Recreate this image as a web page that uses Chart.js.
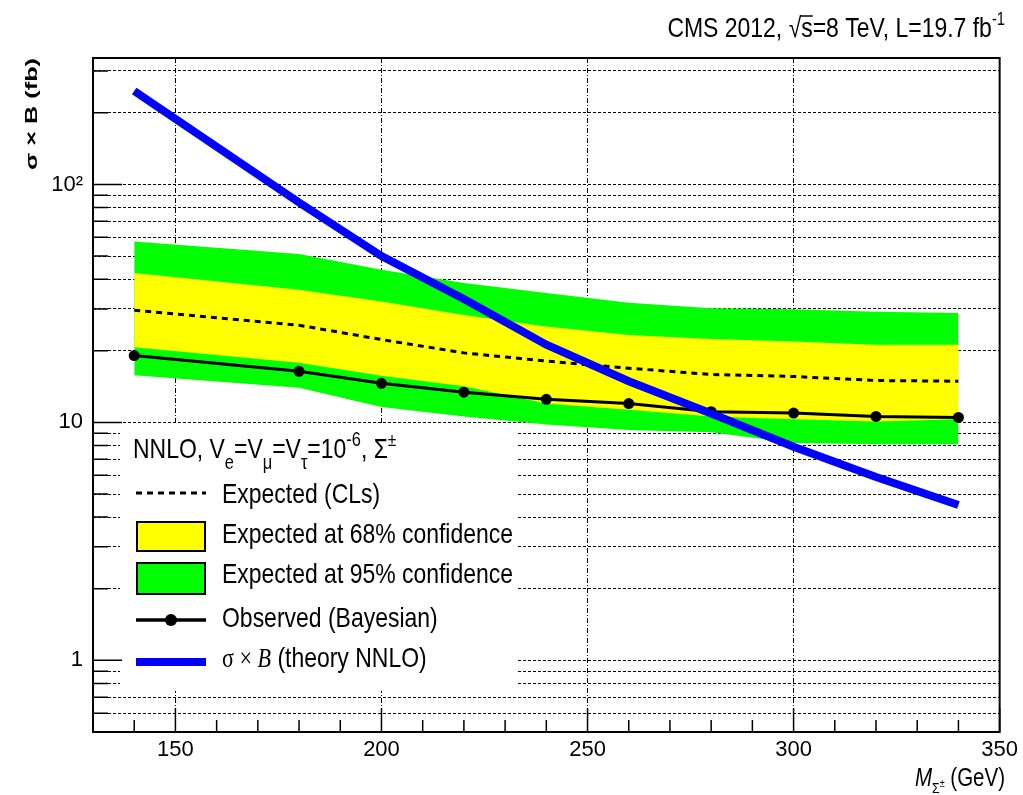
<!DOCTYPE html>
<html>
<head>
<meta charset="utf-8">
<script src="https://cdn.jsdelivr.net/npm/chart.js@4.4.1/dist/chart.umd.min.js"></script>
<style>
  html, body { margin: 0; padding: 0; background: #fff; }
  #wrap { width: 1023px; height: 795px; position: relative; }
</style>
</head>
<body>
<div id="wrap"><canvas id="c" width="1023" height="795"></canvas></div>
<script>
// Mass points (GeV) where the limits were computed
const massPoints   = [140, 180, 200, 220, 240, 260, 280, 300, 320, 340];
// Observed (Bayesian) upper limit on sigma x B (fb)
const observed     = [19.1, 16.4, 14.6, 13.4, 12.5, 12.0, 11.1, 10.95, 10.6, 10.5];
// Median expected limit (CLs)
const expected     = [29.6, 25.6, 22.3, 19.6, 18.1, 16.9, 15.9, 15.6, 15.0, 14.9];
// 68% expected band
const band68Upper  = [42.5, 36.1, 32.2, 28.3, 25.3, 23.3, 22.4, 21.9, 21.2, 21.2];
const band68Lower  = [20.7, 17.8, 15.7, 14.2, 12.0, 11.3, 10.6, 10.3, 10.1, 10.3];
// 95% expected band
const band95Upper  = [57.6, 51.0, 43.8, 38.5, 35.0, 31.8, 30.2, 29.9, 29.2, 28.8];
const band95Lower  = [15.8, 14.0, 11.6, 10.6, 9.8, 9.3, 9.1, 8.2, 8.1, 8.1];
// NNLO theory cross section times branching ratio
const theoryMass   = [140, 160, 180, 200, 220, 240, 260, 280, 300, 320, 340];
const theoryXsec   = [247, 144, 84, 50, 33.0, 21.2, 14.9, 10.9, 7.9, 5.9, 4.5];

// Axis ticks
const xTickValues  = [150, 200, 250, 300, 350];
const xMinorTicks  = [140, 160, 170, 180, 190, 210, 220, 230, 240, 260, 270, 280, 290, 310, 320, 330, 340];
const yTickValues  = [0.6, 0.7, 0.8, 0.9, 1, 2, 3, 4, 5, 6, 7, 8, 9, 10, 20, 30, 40, 50, 60, 70, 80, 90, 100, 200, 300];
const yMajorValues = [1, 10, 100];
const yTickLabels  = { 1: '1', 10: '10', 100: '10\u00B2' };

function fontAvailable(name) {
  const c = document.createElement('canvas').getContext('2d');
  c.font = '80px monospace';
  const a = c.measureText('mmmmlliiWW0123').width;
  c.font = '80px "' + name + '", monospace';
  const b = c.measureText('mmmmlliiWW0123').width;
  return Math.abs(a - b) > 1;
}
const NARROW = fontAvailable('Liberation Sans Narrow');
const SANS = NARROW ? '"Liberation Sans Narrow"' : '"Liberation Sans"';
const SQUEEZE = NARROW ? 1 : 0.82;

const pts = (xs, ys) => xs.map((x, i) => ({ x: x, y: ys[i] }));

// Draws a run of text pieces (sub/superscripts, mixed fonts) along one baseline
function richText(ctx, parts, x, y, align, squeeze) {
  let total = 0;
  parts.forEach(p => {
    ctx.font = p.font;
    p.w = ctx.measureText(p.t).width + (p.gap || 0);
    total += p.w;
  });
  ctx.save();
  ctx.translate(x, y);
  ctx.scale(squeeze, 1);
  ctx.textAlign = 'left';
  ctx.textBaseline = 'alphabetic';
  ctx.fillStyle = '#000';
  let cx = align === 'right' ? -total : 0;
  parts.forEach(p => {
    ctx.font = p.font;
    ctx.fillText(p.t, cx, p.dy || 0);
    if (p.overline) {
      ctx.lineWidth = 1.5;
      ctx.strokeStyle = '#000';
      ctx.beginPath();
      ctx.moveTo(cx - 1, p.overline);
      ctx.lineTo(cx + p.w, p.overline);
      ctx.stroke();
    }
    cx += p.w;
  });
  ctx.restore();
  return total * squeeze;
}

const framePlugin = {
  id: 'frameAndLegend',
  beforeDraw(chart) {
    const ctx = chart.ctx;
    ctx.save();
    ctx.fillStyle = '#fff';
    ctx.fillRect(0, 0, chart.width, chart.height);
    ctx.restore();
  },
  afterDatasetsDraw(chart) {
    const ctx = chart.ctx;
    const a = chart.chartArea;
    const xs = chart.scales.x, ys = chart.scales.y;

    // Legend
    ctx.save();
    ctx.fillStyle = '#fff';
    ctx.fillRect(120, 425, 398, 266);

    const LF = (sz, st) => (st || '') + ' ' + sz + 'px ' + SANS;
    const tx = 222;
    richText(ctx, [
      { t: 'NNLO, V', font: LF(28) },
      { t: 'e', font: LF(20), dy: 11 },
      { t: '=V', font: LF(28) },
      { t: '\u03BC', font: LF(20), dy: 11 },
      { t: '=V', font: LF(28) },
      { t: '\u03C4', font: LF(20), dy: 11 },
      { t: '=10', font: LF(28) },
      { t: '-6', font: LF(20), dy: -12 },
      { t: ', \u03A3', font: LF(28) },
      { t: '\u00B1', font: LF(19), dy: -12 }
    ], 133, 458, 'left', SQUEEZE);

    // dashed expected
    ctx.strokeStyle = '#000';
    ctx.lineWidth = 3;
    ctx.setLineDash([6, 5]);
    ctx.beginPath(); ctx.moveTo(136, 493); ctx.lineTo(206, 493); ctx.stroke();
    ctx.setLineDash([]);
    richText(ctx, [{ t: 'Expected (CLs)', font: LF(28) }], tx, 503, 'left', SQUEEZE);

    // bands
    ctx.lineWidth = 2;
    ctx.fillStyle = '#ffff00';
    ctx.fillRect(137, 522, 68, 29); ctx.strokeRect(137, 522, 68, 29);
    richText(ctx, [{ t: 'Expected at 68% confidence', font: LF(28) }], tx, 543, 'left', SQUEEZE);
    ctx.fillStyle = '#00ff00';
    ctx.fillRect(137, 563, 68, 31); ctx.strokeRect(137, 563, 68, 31);
    richText(ctx, [{ t: 'Expected at 95% confidence', font: LF(28) }], tx, 583, 'left', SQUEEZE);

    // observed
    ctx.lineWidth = 3.5;
    ctx.beginPath(); ctx.moveTo(136, 620); ctx.lineTo(206, 620); ctx.stroke();
    ctx.fillStyle = '#000';
    ctx.beginPath(); ctx.arc(171, 620, 6, 0, Math.PI * 2); ctx.fill();
    richText(ctx, [{ t: 'Observed (Bayesian)', font: LF(28) }], tx, 627, 'left', SQUEEZE);

    // theory
    ctx.strokeStyle = '#0000ff';
    ctx.lineWidth = 8;
    ctx.beginPath(); ctx.moveTo(136, 662); ctx.lineTo(206, 662); ctx.stroke();
    richText(ctx, [
      { t: '\u03C3 \u00D7 ', font: '27px "Liberation Serif"' },
      { t: 'B', font: 'italic 27px "Liberation Serif"' },
      { t: ' (theory NNLO)', font: LF(28) }
    ], tx, 667, 'left', SQUEEZE);
    ctx.restore();

    // Frame
    ctx.save();
    ctx.strokeStyle = '#000';
    ctx.lineWidth = 2;
    ctx.strokeRect(a.left, a.top, a.right - a.left, a.bottom - a.top);

    // Inner tick marks
    ctx.lineWidth = 1.5;
    ctx.beginPath();
    yTickValues.forEach(v => {
      const py = ys.getPixelForValue(v);
      const len = yMajorValues.includes(v) ? 29 : 15;
      ctx.moveTo(a.left, py); ctx.lineTo(a.left + len, py);
    });
    xTickValues.forEach(v => {
      const px = xs.getPixelForValue(v);
      ctx.moveTo(px, a.bottom); ctx.lineTo(px, a.bottom - 24);
    });
    xMinorTicks.forEach(v => {
      const px = xs.getPixelForValue(v);
      ctx.moveTo(px, a.bottom); ctx.lineTo(px, a.bottom - 12);
    });
    ctx.stroke();
    ctx.restore();
  },
  afterDraw(chart) {
    const ctx = chart.ctx;
    // Header
    richText(ctx, [
      { t: 'CMS 2012, \u221A', font: '28px ' + SANS },
      { t: 's', font: '28px ' + SANS, overline: -21 },
      { t: '=8 TeV, L=19.7 fb', font: '28px ' + SANS },
      { t: '-1', font: '18px ' + SANS, dy: -12 }
    ], 1005, 37, 'right', SQUEEZE);

    // X axis title
    richText(ctx, [
      { t: 'M', font: 'italic 25px ' + SANS },
      { t: '\u03A3', font: '15px ' + SANS, dy: 7 },
      { t: '\u00B1', font: '11px ' + SANS, dy: 1 },
      { t: ' (GeV)', font: '25px ' + SANS }
    ], 1005, 786, 'right', SQUEEZE);

    // Y axis title, reading upward, ending at the top of the frame
    ctx.save();
    ctx.translate(37, 58);
    ctx.rotate(-Math.PI / 2);
    ctx.font = 'bold 17px "Liberation Sans"';
    const label = '\u03C3 \u00D7 B (fb)';
    const w = ctx.measureText(label).width;
    ctx.scale(112 / w, 1);
    ctx.fillStyle = '#000';
    ctx.textAlign = 'right';
    ctx.textBaseline = 'alphabetic';
    ctx.fillText(label, 0, 0);
    ctx.restore();
  }
};

const tickFont = { family: SANS.replace(/"/g, ''), size: 22 };

new Chart(document.getElementById('c'), {
  type: 'line',
  data: {
    datasets: [
      { label: '\u03C3 \u00D7 B (theory NNLO)', data: pts(theoryMass, theoryXsec),
        borderColor: '#0000ff', borderWidth: 8, pointRadius: 0, fill: false, tension: 0,
        borderCapStyle: 'butt' },
      { label: 'Observed (Bayesian)', data: pts(massPoints, observed),
        borderColor: '#000', borderWidth: 3, pointRadius: 5.5, pointBackgroundColor: '#000',
        pointBorderWidth: 0, fill: false, tension: 0 },
      { label: 'Expected (CLs)', data: pts(massPoints, expected),
        borderColor: '#000', borderWidth: 3, borderDash: [6, 5], pointRadius: 0, fill: false, tension: 0 },
      { label: 'Expected at 68% confidence', data: pts(massPoints, band68Upper),
        borderColor: '#ffff00', borderWidth: 0, backgroundColor: '#ffff00', pointRadius: 0, fill: 4, tension: 0 },
      { label: '68% lower', data: pts(massPoints, band68Lower),
        borderColor: '#ffff00', borderWidth: 0, pointRadius: 0, fill: false, tension: 0 },
      { label: 'Expected at 95% confidence', data: pts(massPoints, band95Upper),
        borderColor: '#00ff00', borderWidth: 0, backgroundColor: '#00ff00', pointRadius: 0, fill: 6, tension: 0 },
      { label: '95% lower', data: pts(massPoints, band95Lower),
        borderColor: '#00ff00', borderWidth: 0, pointRadius: 0, fill: false, tension: 0 }
    ]
  },
  options: {
    responsive: false,
    animation: false,
    devicePixelRatio: 1,
    events: [],
    layout: { padding: { top: 58, right: 18, left: 0, bottom: 0 } },
    plugins: { legend: { display: false }, tooltip: { enabled: false }, title: { display: false } },
    scales: {
      x: {
        type: 'linear', min: 130, max: 350,
        afterBuildTicks: s => { s.ticks = xTickValues.map(v => ({ value: v })); },
        afterFit: s => { s.height = 63; },
        ticks: { font: tickFont, color: '#000', padding: 5, maxRotation: 0, autoSkip: false },
        grid: { color: c => (c.tick && c.tick.value === 350) ? 'rgba(0,0,0,0)' : '#000',
                lineWidth: 1, drawTicks: false },
        border: { display: false, dash: [5, 2, 1, 2] }
      },
      y: {
        type: 'logarithmic', min: 0.5, max: 340,
        afterBuildTicks: s => { s.ticks = yTickValues.map(v => ({ value: v })); },
        afterFit: s => { s.width = 93; },
        ticks: { font: tickFont, color: '#000', padding: 10, autoSkip: false,
                 callback: v => yTickLabels[v] || '' },
        grid: { color: '#000', lineWidth: 1, drawTicks: false },
        border: { display: false, dash: [3, 2] }
      }
    }
  },
  plugins: [framePlugin]
});
</script>
</body>
</html>
